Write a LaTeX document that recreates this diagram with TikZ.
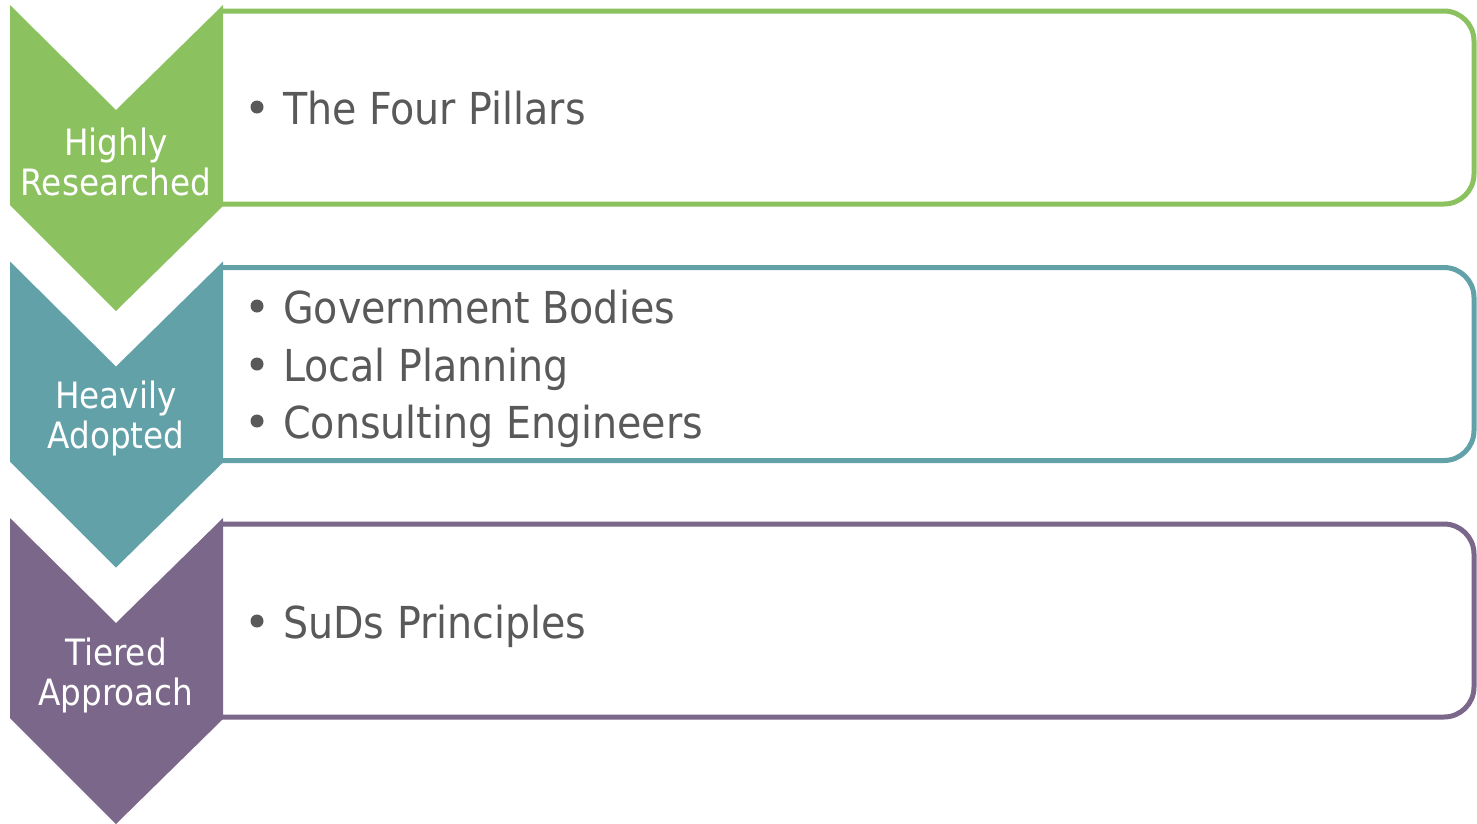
\documentclass[tikz,border=0pt]{standalone}
\usepackage{fontspec}
\setmainfont{DejaVu Sans Condensed}
\definecolor{tiergreen}{HTML}{8CC160}
\definecolor{tierteal}{HTML}{62A1A8}
\definecolor{tierpurple}{HTML}{7B6789}
\definecolor{itemgray}{HTML}{595959}
\tikzset{
  tagtext/.style={text=white, align=center, font=\fontsize{36.3}{40}\selectfont, inner sep=0pt},
  itemtext/.style={text=itemgray, anchor=base west, font=\fontsize{44}{57}\selectfont, inner sep=0pt},
  itemdot/.style={circle, fill=itemgray, minimum size=13pt, inner sep=0pt},
}
\begin{document}
\begin{tikzpicture}[x=1pt,y=-1pt]
  \useasboundingbox (0,0) rectangle (1477,823);
  \foreach \i/\col/\tag in {0/tiergreen/{Highly\\Researched},1/tierteal/{Heavily\\Adopted},2/tierpurple/{Tiered\\Approach}} {
    \pgfmathsetmacro\dy{\i*256.5}
    \draw[\col, line width=5pt, rounded corners=30pt, fill=white] (220,11+\dy) -- (1474,11+\dy) -- (1474,204+\dy) -- (220,204+\dy);
    \fill[\col] (10,5+\dy) -- (116,110+\dy) -- (223,5+\dy) -- (223,206+\dy) -- (116,311+\dy) -- (10,205+\dy) -- cycle;
    \node[tagtext] (tag\i) at (116,162+\dy) {\tag};
  }
  \foreach \n/\y/\txt in {1/124/The Four Pillars,2/323/Government Bodies,3/381/Local Planning,4/438/Consulting Engineers,5/638/SuDs Principles} {
    \node[itemdot] (dot\n) at (257,\y-17) {};
    \node[itemtext] (item\n) at (283,\y) {\txt};
  }
\end{tikzpicture}
\end{document}
